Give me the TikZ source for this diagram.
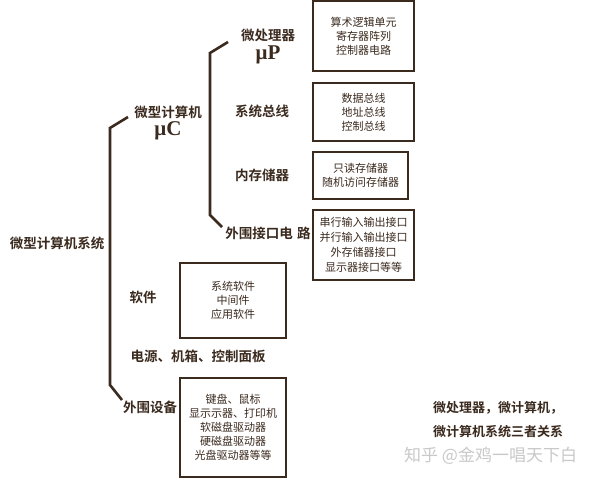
\documentclass[tikz,border=0pt]{standalone}
\usepackage{fontspec}
\setmainfont{Noto Sans CJK SC}[BoldFont={Noto Sans CJK SC Bold}]
\newfontfamily\serifb{Liberation Serif}
\definecolor{ink}{HTML}{3B2A1E}
\definecolor{wm}{HTML}{C9C9C9}
\begin{document}
\begin{tikzpicture}[x=1pt,y=-1pt,
  lbl/.style={text=ink,font=\bfseries\fontsize{13.5}{16}\selectfont,inner sep=0pt},
  greek/.style={text=ink,font=\serifb\bfseries\fontsize{21}{22}\selectfont,inner sep=0pt},
  itembox/.style={draw=ink,line width=2.6pt,text=ink,align=center,inner sep=0pt,
    font=\fontsize{11}{14}\selectfont},
  brace/.style={draw=ink,line width=2.6pt,line join=miter}]
\useasboundingbox (0,0) rectangle (600,479);
\fill[white] (0,0) rectangle (600,479);
% left labels
\node[lbl] (sys) at (57,243) {微型计算机系统};
\node[lbl] (mc) at (168,112) {微型计算机};
\node[greek] (mcg) at (168,131) {μC};
\node[lbl] (soft) at (143,297) {软件};
\node[lbl] (power) at (198,356) {电源、机箱、控制面板};
\node[lbl] (peri) at (150,407) {外围设备};
% second level labels
\node[lbl] (mp) at (268,35) {微处理器};
\node[greek] (mpg) at (268,55) {μP};
\node[lbl] (bus) at (262,111) {系统总线};
\node[lbl] (mem) at (262,175) {内存储器};
\node[lbl] (io) at (268,233) {外围接口电\,\,路};
% boxes
\node[itembox,minimum width=101pt,minimum height=70pt] (b1) at (363.5,36) {算术逻辑单元\\寄存器阵列\\控制器电路};
\node[itembox,minimum width=101pt,minimum height=58pt] (b2) at (363.5,112) {数据总线\\地址总线\\控制总线};
\node[itembox,minimum width=95pt,minimum height=47pt] (b3) at (360.5,175.5) {只读存储器\\随机访问存储器};
\node[itembox,minimum width=101pt,minimum height=70pt,font=\fontsize{11}{15}\selectfont] (b4) at (363.5,245) {串行输入输出接口\\并行输入输出接口\\外存储器接口\\显示器接口等等};
\node[itembox,minimum width=106pt,minimum height=75pt] (bs) at (233,300.5) {系统软件\\中间件\\应用软件};
\node[itembox,minimum width=106pt,minimum height=99pt] (bp) at (233,427.5) {键盘、鼠标\\显示示器、打印机\\软磁盘驱动器\\硬磁盘驱动器\\光盘驱动器等等};
% brackets
\coordinate (m1) at (128,117);
\coordinate (m2) at (110,128);
\coordinate (m3) at (110,385);
\coordinate (m4) at (122,400);
\draw[brace] (m1) -- (m2) -- (m3) -- (m4);
\coordinate (s1) at (228,42);
\coordinate (s2) at (210,53);
\coordinate (s3) at (210,215);
\coordinate (s4) at (222,227);
\draw[brace] (s1) -- (s2) -- (s3) -- (s4);
% caption
\node[lbl,anchor=west,font=\bfseries\fontsize{13}{16}\selectfont] (cap1) at (433,408) {微处理器，微计算机，};
\node[lbl,anchor=west,font=\bfseries\fontsize{13}{16}\selectfont] (cap2) at (433,432) {微计算机系统三者关系};
\node[anchor=west,text=wm,inner sep=0pt,font=\fontsize{17}{19}\selectfont] (wmk) at (404,456) {知乎 @金鸡一唱天下白};
\end{tikzpicture}
\end{document}
